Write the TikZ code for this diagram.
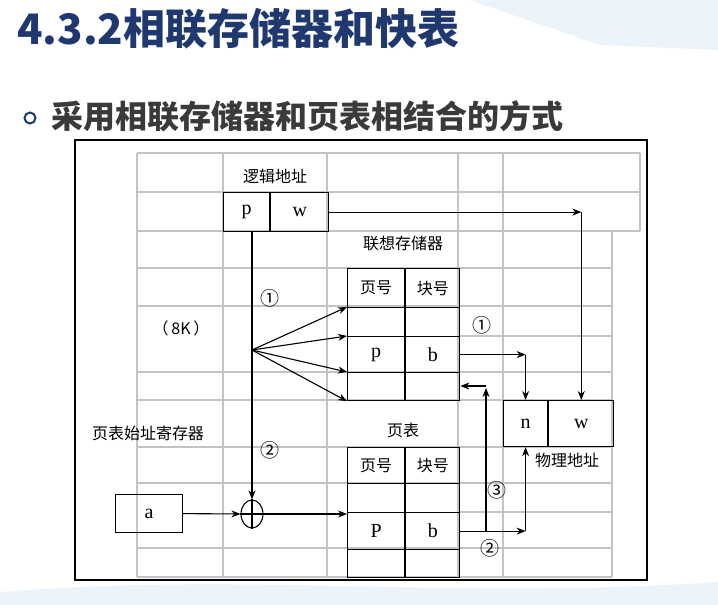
\documentclass[tikz,border=0pt]{standalone}
\usepackage{fontspec}
\usepackage{tikz}
\usetikzlibrary{arrows.meta, positioning, shapes.geometric}
\newfontfamily\cjk{Noto Sans CJK SC}
\newfontfamily\lat{Liberation Serif}
\definecolor{titleblue}{RGB}{31, 56, 112}
\definecolor{subgray}{RGB}{58, 58, 58}
\definecolor{gridgray}{RGB}{195, 195, 195}
\definecolor{bgblue}{RGB}{236, 244, 251}

\begin{document}
\begin{tikzpicture}[x=1pt, y=-1pt,
    cell/.style={draw, line width=1.2pt, inner sep=0pt, anchor=north west, font=\cjk\fontsize{16}{16}\selectfont},
    gridline/.style={draw=gridgray, line width=1.2pt},
    arr/.style={-{Stealth[length=9pt, width=7pt]}, line width=1.1pt},
    lbl/.style={font=\cjk\fontsize{16}{16}\selectfont, inner sep=0pt},
    num/.style={font=\cjk\fontsize{19}{19}\selectfont, inner sep=0pt}]
    \useasboundingbox (0,0) rectangle (718,605);
    \fill[white] (0,0) rectangle (718,605);
    % pale background
    \fill[bgblue] (470,0) -- (718,0) -- (718,50) -- (600,45) -- cycle;
    \fill[bgblue] (0,592) .. controls (250,572) and (450,600) .. (718,582) -- (718,605) -- (0,605) -- cycle;
    % headings
    \node[anchor=west, inner sep=0pt, text=titleblue, font=\cjk\bfseries\fontsize{42}{42}\selectfont] (title) at (17,29) {4.3.2相联存储器和快表};
    \node[draw=titleblue, line width=2pt, circle, minimum size=11pt, inner sep=0pt] (bullet) at (30,118) {};
    \node[anchor=west, inner sep=0pt, text=subgray, font=\cjk\bfseries\fontsize{32}{32}\selectfont] (subtitle) at (51,116) {采用相联存储器和页表相结合的方式};
    % frame and grid
    \draw[line width=1.2pt, fill=white] (75,140) rectangle (647,580);
    \foreach \y in {153,192,231} \draw[gridline] (137,\y) -- (640,\y);
    \foreach \y in {268,306,372,400,447,483,548,577} \draw[gridline] (137,\y) -- (612,\y);
    \foreach \y in {336,512} \draw[gridline] (458,\y) -- (612,\y);
    \foreach \x in {137,223,327,458,503} \draw[gridline] (\x,153) -- (\x,577);
    \draw[gridline] (612,231) -- (612,577);
    \draw[gridline] (640,153) -- (640,231);
    % logical address
    \node[cell, minimum width=46pt, minimum height=39pt] (lp) at (223,192) {\lat\fontsize{20}{20}\selectfont p};
    \node[cell, minimum width=58pt, minimum height=39pt] (lw) at (lp.north east) {\lat\fontsize{20}{20}\selectfont w};
    % associative memory
    \foreach \n/\t/\h/\a/\b in {m0/268/39/页号/块号, m1/307/29//, m2/336/36/{\lat\fontsize{20}{20}\selectfont p}/{\lat\fontsize{20}{20}\selectfont b}, m3/372/28//} {
        \node[cell, minimum width=57pt, minimum height=\h pt] (\n a) at (347,\t) {\a};
        \node[cell, minimum width=54pt, minimum height=\h pt] (\n b) at (\n a.north east) {\b};
    }
    % page table
    \foreach \n/\t/\h/\a/\b in {p0/447/36/页号/块号, p1/483/29//, p2/512/37/{\lat\fontsize{20}{20}\selectfont P}/{\lat\fontsize{20}{20}\selectfont b}, p3/549/28//} {
        \node[cell, minimum width=57pt, minimum height=\h pt] (\n a) at (347,\t) {\a};
        \node[cell, minimum width=54pt, minimum height=\h pt] (\n b) at (\n a.north east) {\b};
    }
    % physical address
    \node[cell, minimum width=44pt, minimum height=46pt] (pn) at (503,400) {\lat\fontsize{20}{20}\selectfont n};
    \node[cell, minimum width=65pt, minimum height=46pt] (pw) at (pn.north east) {\lat\fontsize{20}{20}\selectfont w};
    % page table register and adder
    \node[cell, minimum width=67pt, minimum height=38pt] (abox) at (115,494) {\lat\fontsize{20}{20}\selectfont a};
    \node[draw, ellipse, line width=1.1pt, minimum width=22pt, minimum height=28pt, inner sep=0pt] (adder) at (252,514) {};
    \draw[line width=1.1pt] (adder.north) -- (adder.south) (adder.west) -- (adder.east);
    \coordinate (fan) at (252,350);
    \coordinate (wturn) at (lw.east -| pw.north);
    \coordinate (mturn) at (m2b.east -| pn.north);
    \coordinate (pturn) at (p2b.east -| pn.south);
    \coordinate (ret) at (486,388);
    % connectors
    \draw[arr] (lp.south -| adder.north) -- (adder.north);
    \foreach \t in {m1a.north west, m2a.north west, m3a.north west, m3a.south west}
        \draw[arr] (fan) -- (\t);
    \draw[arr] (lw.east) -- (wturn);
    \draw[arr] (wturn) -- (pw.north);
    \draw[arr] (m2b.east) -- (mturn);
    \draw[arr] (mturn) -- (pn.north);
    \draw[arr] (abox.east) -- (adder.west);
    \draw[arr] (adder.east) -- (adder.east -| p2a.west);
    \draw[arr] (p2b.east) -- (pturn);
    \draw[arr] (pturn) -- (pn.south);
    \draw[arr] (ret |- p2b.east) -- (ret);
    \draw[arr] ([yshift=2pt]ret) -- ([yshift=2pt]ret -| m3b.east);
    % labels
    \node[lbl] (lalabel) at (275,176) {逻辑地址};
    \node[lbl] (camlabel) at (403,243) {联想存储器};
    \node[lbl] (ptlabel) at (403,430) {页表};
    \node[lbl] (k8) at (181,328) {（\,8K\,）};
    \node[lbl] (ptrlabel) at (148,433) {页表始址寄存器};
    \node[lbl] (palabel) at (567,460) {物理地址};
    \node[num] (n1a) at (270,298) {①};
    \node[num] (n2a) at (270,450) {②};
    \node[num] (n1b) at (482,325) {①};
    \node[num] (n3) at (497,490) {③};
    \node[num] (n2b) at (490,548) {②};
\end{tikzpicture}
\end{document}
